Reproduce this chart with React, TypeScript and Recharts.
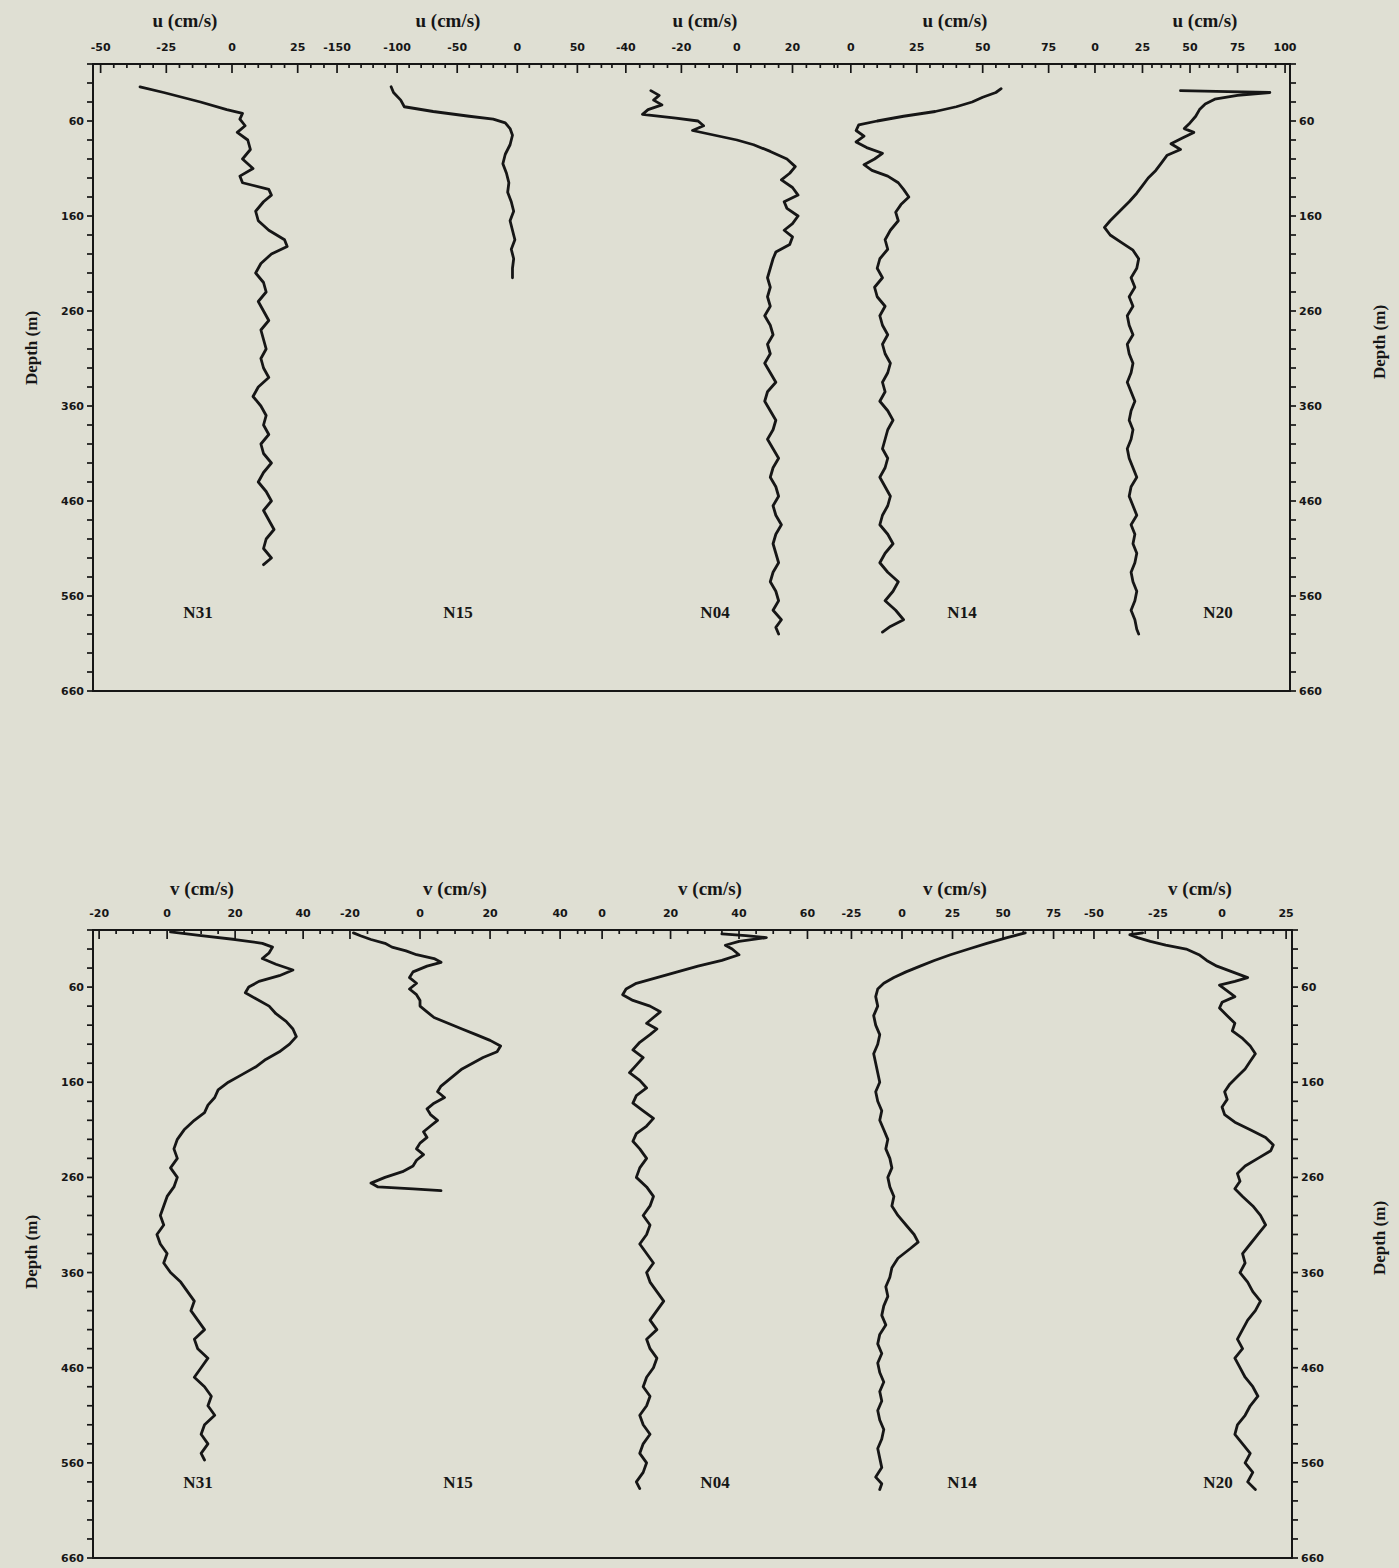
import React from "react";
import { ScatterChart, Scatter, XAxis, YAxis } from "recharts";

// ---- data: [depth (m), velocity (cm/s)] ----
const STATIONS = ["N31", "N15", "N04", "N14", "N20"];
const DEPTH_LABELS = [60, 160, 260, 360, 460, 560, 660];
const U_TICK_LABELS = [
  [-50, -25, 0, 25],
  [-150, -100, -50, 0, 50],
  [-40, -20, 0, 20],
  [0, 25, 50, 75],
  [0, 25, 50, 75, 100],
];
const V_TICK_LABELS = [
  [-20, 0, 20, 40],
  [-20, 0, 20, 40],
  [0, 20, 40, 60],
  [-25, 0, 25, 50, 75],
  [-50, -25, 0, 25],
];

const n31U = [
  [24, -35], [30, -26], [40, -12], [48, -2], [52, 4], [58, 3], [65, 5], [72, 2], [80, 6], [90, 7],
  [100, 4], [110, 8], [118, 3], [125, 4], [132, 14], [138, 15], [145, 12], [155, 9], [165, 10], [175, 14],
  [185, 20], [192, 21], [200, 15], [210, 11], [220, 9], [230, 12], [240, 13], [250, 10], [260, 12], [270, 14],
  [280, 11], [290, 12], [300, 13], [310, 11], [320, 12], [330, 14], [340, 10], [350, 8], [360, 11], [370, 13],
  [380, 12], [390, 14], [400, 11], [410, 12], [420, 15], [430, 12], [440, 10], [450, 13], [460, 15], [470, 12],
  [480, 14], [490, 16], [500, 13], [510, 12], [520, 15], [527, 12],
];
const n15U = [
  [24, -105], [30, -103], [38, -97], [45, -94], [50, -70], [55, -40], [58, -20], [62, -10], [68, -6], [75, -4],
  [85, -6], [95, -10], [105, -12], [115, -9], [125, -7], [135, -8], [145, -5], [155, -3], [165, -6], [175, -4],
  [185, -2], [195, -5], [205, -3], [215, -4], [225, -4],
];
const n04U = [
  [28, -31], [33, -28], [38, -30], [43, -27], [48, -32], [53, -34], [57, -22], [60, -14], [65, -12], [70, -16],
  [75, -8], [80, 0], [85, 6], [92, 12], [100, 18], [108, 21], [115, 19], [122, 16], [130, 20], [138, 22],
  [145, 17], [152, 18], [160, 22], [168, 20], [175, 17], [182, 20], [190, 19], [198, 14], [205, 13], [215, 12],
  [225, 11], [235, 12], [245, 11], [255, 12], [265, 10], [275, 12], [285, 13], [295, 11], [305, 12], [315, 10],
  [325, 12], [335, 14], [345, 11], [355, 10], [365, 12], [375, 14], [385, 13], [395, 11], [405, 13], [415, 15],
  [425, 13], [435, 12], [445, 14], [455, 15], [465, 13], [475, 14], [485, 16], [495, 14], [505, 13], [515, 14],
  [525, 15], [535, 13], [545, 12], [555, 14], [565, 15], [575, 13], [585, 16], [593, 14], [600, 15],
];
const n14U = [
  [26, 57], [30, 55], [35, 50], [40, 46], [45, 40], [50, 32], [55, 20], [60, 10], [64, 3], [70, 2],
  [76, 5], [82, 2], [88, 6], [94, 12], [100, 9], [106, 5], [112, 8], [118, 14], [125, 18], [132, 20],
  [140, 22], [148, 19], [156, 17], [165, 18], [175, 15], [185, 13], [195, 14], [205, 11], [215, 10], [225, 12],
  [235, 9], [245, 10], [255, 13], [265, 11], [275, 12], [285, 14], [295, 12], [305, 13], [315, 15], [325, 14],
  [335, 12], [345, 13], [355, 11], [365, 14], [375, 16], [385, 14], [395, 13], [405, 12], [415, 14], [425, 13],
  [435, 11], [445, 13], [455, 15], [465, 14], [475, 12], [485, 11], [495, 14], [505, 16], [515, 13], [525, 11],
  [535, 14], [545, 18], [555, 16], [565, 13], [575, 17], [585, 20], [592, 15], [598, 12],
];
const n20U = [
  [28, 45], [29, 70], [30, 92], [33, 75], [37, 63], [42, 58], [48, 55], [55, 53], [62, 50], [68, 47],
  [72, 52], [78, 46], [84, 40], [90, 45], [96, 38], [104, 35], [112, 32], [120, 28], [128, 25], [136, 22],
  [145, 18], [155, 13], [165, 8], [172, 5], [180, 8], [188, 14], [196, 20], [205, 23], [215, 22], [225, 19],
  [235, 21], [245, 18], [255, 20], [265, 17], [275, 18], [285, 20], [295, 17], [305, 18], [315, 20], [325, 19],
  [335, 17], [345, 19], [355, 21], [365, 19], [375, 18], [385, 20], [395, 19], [405, 17], [415, 18], [425, 20],
  [435, 22], [445, 19], [455, 18], [465, 20], [475, 22], [485, 19], [495, 21], [505, 20], [515, 22], [525, 21],
  [535, 19], [545, 20], [555, 22], [565, 21], [575, 19], [585, 21], [595, 22], [600, 23],
];

const n31V = [
  [2, 1], [6, 10], [10, 20], [14, 28], [18, 31], [24, 30], [30, 28], [36, 32], [42, 37], [48, 33],
  [54, 27], [60, 24], [66, 23], [72, 26], [80, 30], [88, 32], [96, 35], [104, 37], [112, 38], [120, 36],
  [128, 33], [136, 29], [144, 26], [152, 22], [160, 18], [168, 15], [176, 14], [184, 12], [192, 11], [200, 8],
  [210, 5], [220, 3], [230, 2], [240, 3], [250, 1], [260, 3], [270, 2], [280, 0], [290, -1], [300, -2],
  [310, -1], [320, -3], [330, -2], [340, 0], [350, -1], [360, 1], [370, 4], [380, 6], [390, 8], [400, 7],
  [410, 9], [420, 11], [430, 8], [440, 9], [450, 12], [460, 10], [470, 8], [480, 11], [490, 13], [500, 12],
  [510, 14], [520, 11], [530, 10], [540, 12], [550, 10], [557, 11],
];
const n15V = [
  [3, -19], [6, -17], [10, -14], [14, -10], [18, -8], [22, -4], [26, -1], [30, 4], [34, 6], [38, 2],
  [44, -2], [50, -3], [56, -1], [62, -3], [68, -1], [74, 0], [80, 0], [86, 2], [92, 4], [98, 8],
  [104, 12], [110, 16], [116, 20], [122, 23], [128, 22], [134, 18], [140, 15], [146, 12], [152, 10], [158, 8],
  [164, 6], [170, 5], [176, 7], [182, 4], [188, 2], [194, 3], [200, 5], [206, 3], [212, 1], [218, 2],
  [224, 0], [230, -1], [236, 1], [242, -1], [248, -2], [254, -5], [260, -10], [266, -14], [270, -12], [272, -2],
  [274, 6],
];
const n04V = [
  [4, 35], [6, 42], [8, 48], [12, 40], [16, 36], [20, 38], [26, 40], [32, 35], [38, 28], [44, 22],
  [50, 16], [56, 10], [62, 7], [68, 6], [74, 9], [80, 14], [86, 17], [92, 15], [98, 13], [104, 16],
  [110, 14], [118, 11], [126, 9], [134, 12], [142, 10], [150, 8], [158, 11], [166, 13], [174, 10], [182, 9],
  [190, 12], [198, 15], [206, 13], [214, 10], [222, 9], [230, 11], [240, 13], [250, 11], [260, 10], [270, 13],
  [280, 15], [290, 14], [300, 12], [310, 14], [320, 13], [330, 11], [340, 13], [350, 15], [360, 13], [370, 14],
  [380, 16], [390, 18], [400, 16], [410, 14], [420, 16], [430, 13], [440, 14], [450, 16], [460, 15], [470, 13],
  [480, 12], [490, 14], [500, 13], [510, 11], [520, 12], [530, 14], [540, 12], [550, 11], [560, 13], [570, 12],
  [580, 10], [587, 11],
];
const n14V = [
  [3, 61], [8, 52], [14, 42], [20, 33], [26, 24], [32, 16], [38, 9], [44, 2], [50, -4], [56, -9],
  [62, -12], [70, -13], [80, -12], [90, -14], [100, -13], [110, -11], [120, -12], [130, -14], [140, -13], [150, -12],
  [160, -11], [170, -13], [180, -12], [190, -10], [200, -11], [210, -9], [220, -7], [230, -8], [240, -6], [250, -5],
  [260, -7], [270, -6], [280, -4], [290, -5], [300, -2], [310, 2], [320, 6], [328, 8], [335, 4], [345, -2],
  [355, -5], [365, -6], [375, -8], [385, -7], [395, -9], [405, -10], [415, -8], [425, -11], [435, -12], [445, -10],
  [455, -12], [465, -11], [475, -9], [485, -11], [495, -10], [505, -12], [515, -11], [525, -9], [535, -10], [545, -12],
  [555, -11], [565, -10], [575, -13], [582, -10], [588, -11],
];
const n20V = [
  [3, -31], [5, -36], [8, -33], [12, -28], [16, -22], [20, -14], [26, -9], [32, -6], [38, -2], [44, 4],
  [50, 10], [54, 5], [58, -1], [64, 2], [70, 5], [76, 0], [82, -1], [90, 2], [98, 5], [106, 4],
  [114, 8], [122, 11], [130, 13], [138, 11], [146, 9], [154, 6], [162, 3], [170, 1], [178, 2], [186, 0],
  [194, 1], [202, 5], [210, 11], [218, 17], [226, 20], [232, 19], [240, 14], [248, 9], [256, 6], [264, 7],
  [272, 5], [280, 8], [290, 12], [300, 15], [310, 17], [320, 14], [330, 11], [340, 8], [350, 9], [360, 7],
  [370, 10], [380, 12], [390, 15], [400, 13], [410, 10], [420, 8], [430, 6], [440, 8], [450, 5], [460, 7],
  [470, 9], [480, 12], [490, 14], [500, 11], [510, 9], [520, 6], [530, 5], [540, 8], [550, 11], [560, 9],
  [570, 12], [580, 10], [588, 13],
];

const U_SERIES = [n31U, n15U, n04U, n14U, n20U];
const V_SERIES = [n31V, n15V, n04V, n14V, n20V];

// ---- layout ----
const W = 1399;
const H = 1568;
const INK = "#161616";
const PAPER = "#dfdfd3";
const AXIS_H = 30;
const Y_W = 60;
const DEPTH_DOMAIN = [0, 660];

const TOP = {
  y0: 64,
  y1: 691,
  bounds: [93, 335, 605, 835, 1075, 1290],
  domains: [[-52.9, 39.2], [-151.7, 73], [-47.5, 35.3], [-6, 85], [-10.5, 102.6]],
  steps: [5, 10, 5, 5, 5],
  labels: U_TICK_LABELS,
  series: U_SERIES,
  title: "u (cm/s)",
  titleX: [185, 448, 705, 955, 1205],
  titleY: 20,
  nameY: 612,
  depthY: [348, 342],
};
const BOTTOM = {
  y0: 930,
  y1: 1558,
  bounds: [93, 330, 585, 828, 1075, 1292],
  domains: [[-21.8, 47.9], [-25.7, 47.1], [-5, 66], [-36.6, 85.6], [-57.4, 27.3]],
  steps: [5, 5, 5, 5, 5],
  labels: V_TICK_LABELS,
  series: V_SERIES,
  title: "v (cm/s)",
  titleX: [202, 455, 710, 955, 1200],
  titleY: 888,
  nameY: 1482,
  depthY: [1252, 1238],
};
const NAME_X = [198, 458, 715, 962, 1218];

const stepTicks = (lo: number, hi: number, step: number) => {
  const out: number[] = [];
  for (let t = Math.ceil(lo / step) * step; t <= hi; t += step) out.push(t);
  return out;
};
const DEPTH_TICKS = stepTicks(0, 660, 20);

const tickFont = { fontFamily: "DejaVu Sans", fontWeight: 700, fontSize: 11, fill: INK };

const topTick = (labels: number[]) => (props: any) => {
  const { x, y, payload } = props;
  const major = labels.includes(payload.value);
  return (
    <g>
      <line x1={x} x2={x} y1={y} y2={y + (major ? 9 : 4)} stroke={INK} strokeWidth={1.7} />
      {major && (
        <text x={x} y={y - 13} textAnchor="middle" {...tickFont}>
          {payload.value}
        </text>
      )}
    </g>
  );
};

const sideTick = (side: "left" | "right") => (props: any) => {
  const { x, y, payload } = props;
  const major = DEPTH_LABELS.includes(payload.value);
  const dir = side === "left" ? -1 : 1;
  return (
    <g>
      <line x1={x} x2={x + dir * 6} y1={y} y2={y} stroke={INK} strokeWidth={1.7} />
      {major && (
        <text x={x + dir * 9} y={y + 4} textAnchor={side === "left" ? "end" : "start"} {...tickFont}>
          {payload.value}
        </text>
      )}
    </g>
  );
};

const NoShape = () => <g />;

function Panel({ cfg }: { cfg: typeof TOP }) {
  return (
    <>
      {STATIONS.map((name, i) => {
        const xa = cfg.bounds[i];
        const xb = cfg.bounds[i + 1];
        const first = i === 0;
        const last = i === STATIONS.length - 1;
        const data = cfg.series[i].map(([d, v]) => ({ d, v }));
        const [lo, hi] = cfg.domains[i];
        return (
          <div key={name} style={{ position: "absolute", left: 0, top: 0 }}>
            <ScatterChart
              width={W}
              height={H}
              margin={{
                top: cfg.y0 - AXIS_H,
                bottom: H - cfg.y1,
                left: first ? xa - Y_W : xa,
                right: last ? W - xb - Y_W : W - xb,
              }}
            >
              <XAxis
                type="number"
                dataKey="v"
                orientation="top"
                domain={[lo, hi]}
                allowDataOverflow
                ticks={stepTicks(lo, hi, cfg.steps[i])}
                interval={0}
                height={AXIS_H}
                tickSize={0}
                tickMargin={0}
                axisLine={false}
                tickLine={false}
                tick={topTick(cfg.labels[i])}
              />
              <YAxis
                type="number"
                dataKey="d"
                domain={DEPTH_DOMAIN}
                reversed
                allowDataOverflow
                hide={!first && !last}
                orientation={last ? "right" : "left"}
                width={Y_W}
                ticks={DEPTH_TICKS}
                interval={0}
                tickSize={0}
                tickMargin={0}
                axisLine={false}
                tickLine={false}
                tick={sideTick(last ? "right" : "left")}
              />
              <Scatter
                data={data}
                shape={NoShape}
                line={{ stroke: INK, strokeWidth: 2.8, strokeLinejoin: "round", strokeLinecap: "round" }}
                stroke={INK}
                isAnimationActive={false}
              />
            </ScatterChart>
          </div>
        );
      })}
      <div
        style={{
          position: "absolute",
          left: cfg.bounds[0] - 1,
          top: cfg.y0 - 1,
          width: cfg.bounds[5] - cfg.bounds[0] + 2,
          height: cfg.y1 - cfg.y0 + 2,
          border: `2px solid ${INK}`,
          boxSizing: "border-box",
        }}
      />
      {STATIONS.map((name, i) => (
        <div key={"t" + name} style={{ ...textStyle(19), left: cfg.titleX[i], top: cfg.titleY }}>
          {cfg.title}
        </div>
      ))}
      {STATIONS.map((name, i) => (
        <div key={"n" + name} style={{ ...textStyle(17), left: NAME_X[i], top: cfg.nameY }}>
          {name}
        </div>
      ))}
      <div style={{ ...textStyle(17), left: 31, top: cfg.depthY[0], transform: "translate(-50%,-50%) rotate(-90deg)" }}>
        Depth (m)
      </div>
      <div style={{ ...textStyle(17), left: 1379, top: cfg.depthY[1], transform: "translate(-50%,-50%) rotate(-90deg)" }}>
        Depth (m)
      </div>
    </>
  );
}

function textStyle(size: number): React.CSSProperties {
  return {
    position: "absolute",
    transform: "translate(-50%,-50%)",
    fontFamily: "Liberation Serif",
    fontWeight: 700,
    fontSize: size,
    color: INK,
    whiteSpace: "nowrap",
    lineHeight: 1,
  };
}

export default function App() {
  return (
    <div style={{ position: "relative", width: W, height: H, background: PAPER, overflow: "hidden" }}>
      <style>{`body{margin:0}`}</style>
      <Panel cfg={TOP} />
      <Panel cfg={BOTTOM} />
    </div>
  );
}
